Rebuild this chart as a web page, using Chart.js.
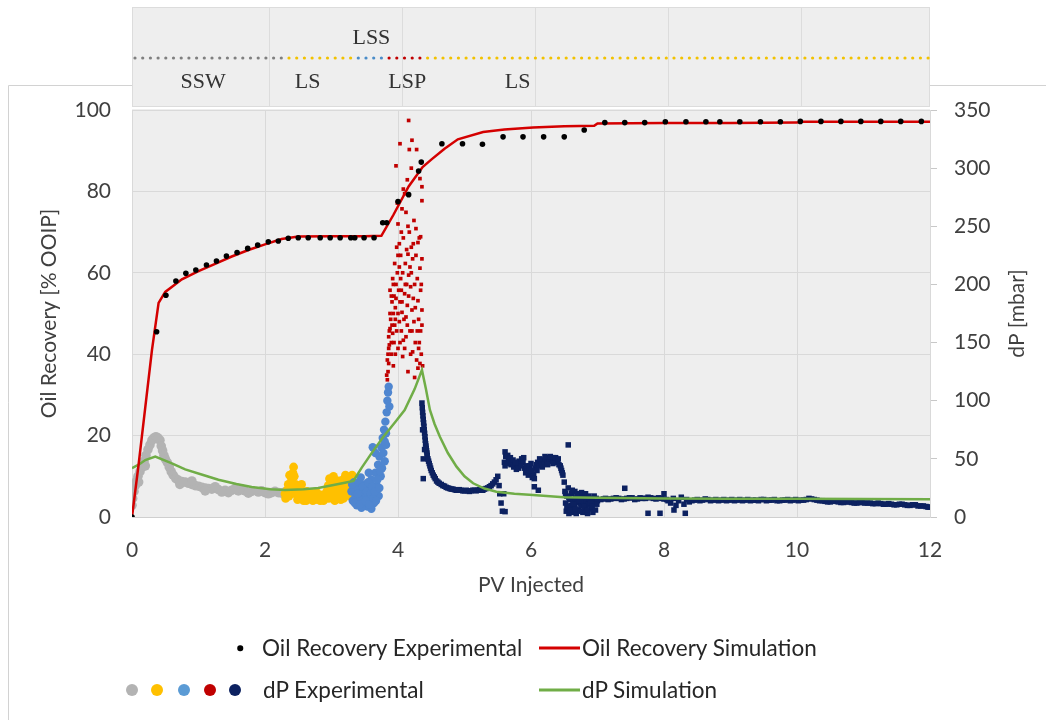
<!DOCTYPE html>
<html>
<head>
<meta charset="utf-8">
<script src="https://cdn.jsdelivr.net/npm/chart.js@4.4.1/dist/chart.umd.min.js"></script>
<style>
  body { margin: 0; background: #fff; }
  #wrap { position: relative; width: 1046px; height: 720px; font-family: Lato, sans-serif; color: #262626; }
  .lg { position: absolute; font-size: 22.5px; line-height: 26px; white-space: nowrap; transform: translateY(-50%); }
  .dot { position: absolute; border-radius: 50%; transform: translate(-50%, -50%); }
  .bar { position: absolute; height: 3px; width: 41px; transform: translateY(-50%); }
</style>
</head>
<body>
<div id="wrap">
  <canvas id="myChart" width="1046" height="720"></canvas>
  <div id="legend"></div>
</div>
<script>
// oil recovery [% OOIP] vs PV injected
const oilExp = [
  [0, 0], [0.37, 45.5], [0.51, 54.5], [0.66, 58], [0.81, 59.9], [0.96, 60.7], [1.12, 61.9],
  [1.27, 62.9], [1.42, 64.1], [1.58, 65.0], [1.74, 66.0], [1.89, 66.8], [2.05, 67.6], [2.2, 67.8],
  [2.35, 68.5], [2.5, 68.6], [2.65, 68.6], [2.83, 68.6], [2.98, 68.6], [3.13, 68.6], [3.29, 68.6],
  [3.35, 68.6], [3.49, 68.6], [3.64, 68.6], [3.77, 72.3], [3.83, 72.3], [4.0, 77.5], [4.16, 79.2],
  [4.31, 85.0], [4.35, 87.2], [4.66, 91.7], [4.97, 91.7], [5.27, 91.6], [5.58, 93.4], [5.88, 93.4],
  [6.19, 93.4], [6.5, 93.4], [6.8, 95.1], [7.11, 96.9], [7.41, 96.9], [7.71, 96.9], [8.02, 97.1],
  [8.33, 97.1], [8.63, 97.1], [8.84, 97.1], [9.14, 97.1], [9.45, 97.1], [9.75, 97.1], [10.05, 97.2],
  [10.36, 97.2], [10.66, 97.2], [10.96, 97.2], [11.26, 97.2], [11.56, 97.2], [11.87, 97.2]
];
const oilSim = [
  [0, 0], [0.1, 13], [0.2, 27], [0.3, 41], [0.4, 52.6], [0.5, 55.3], [0.75, 58.4], [1.0, 60.4],
  [1.25, 62.2], [1.5, 64], [1.75, 65.6], [2.0, 67], [2.25, 68.3], [2.5, 68.9], [3.0, 69], [3.5, 69],
  [3.75, 69.1], [3.93, 74.2], [4.16, 81.2], [4.37, 86], [4.5, 87.8], [4.7, 90.5], [4.9, 92.8],
  [5.28, 94.6], [5.6, 95.2], [6.03, 95.7], [6.5, 96], [6.95, 96.1], [7.0, 96.7], [8.0, 96.8],
  [9.0, 96.8], [10.0, 96.9], [10.05, 97.1], [12, 97.1]
];

// pressure drop [mbar]
const dpSim = [
  [0, 42], [0.1, 45], [0.2, 49], [0.35, 52], [0.6, 46.2], [0.8, 41], [1.07, 36.1], [1.3, 32],
  [1.57, 28.4], [1.8, 25.8], [2.08, 23.8], [2.3, 23.2], [2.58, 23.8], [2.8, 25], [3.03, 27.5],
  [3.2, 29.5], [3.33, 31], [3.45, 42], [3.58, 53], [3.78, 69], [3.95, 81], [4.1, 92], [4.25, 110],
  [4.36, 126.4], [4.42, 110], [4.48, 92], [4.55, 80], [4.63, 69], [4.75, 55], [4.88, 43.3], [5.0, 35],
  [5.13, 29], [5.3, 24.5], [5.48, 21.8], [5.75, 20], [6.03, 18.9], [6.49, 17], [7, 16.6], [8, 16],
  [9, 15.8], [10, 15.6], [11, 15.4], [12, 15.2]
];
const dpSSW = [
  [0.0, 10], [0.01, 16], [0.03, 22], [0.05, 27], [0.07, 31], [0.09, 35], [0.12, 39], [0.15, 43],
  [0.18, 48], [0.21, 53], [0.24, 58], [0.27, 62], [0.3, 66], [0.33, 68], [0.36, 69], [0.39, 68],
  [0.42, 66], [0.44, 61], [0.46, 57], [0.48, 53], [0.5, 50], [0.53, 47], [0.56, 43], [0.59, 39],
  [0.62, 36], [0.66, 33], [0.7, 31.5], [0.75, 30.5], [0.8, 30], [0.85, 29], [0.9, 28], [0.95, 27],
  [1.0, 26.5], [1.05, 25.5], [1.1, 25], [1.15, 24.5], [1.2, 24], [1.3, 23.5], [1.4, 23], [1.5, 23],
  [1.6, 22.5], [1.7, 22.5], [1.8, 22], [1.9, 21.5], [2.0, 21], [2.1, 21], [2.2, 21], [2.3, 21.5],
  [0.72, 28], [0.9, 31], [1.1, 22.5], [1.25, 26], [1.45, 21], [1.65, 24], [0.2, 44], [0.1, 30],
  [1.35, 21.5], [1.55, 24.5], [1.75, 20.5], [1.95, 22.5], [2.05, 20], [2.15, 22], [2.25, 20.5]
];
const dpLS1 = [
  [2.3, 20], [2.33, 23], [2.36, 18], [2.38, 26], [2.4, 32], [2.42, 38], [2.43, 43], [2.44, 35],
  [2.46, 28], [2.48, 22], [2.5, 18], [2.53, 24], [2.56, 20], [2.6, 17], [2.63, 22], [2.66, 19],
  [2.7, 16], [2.73, 20], [2.76, 15], [2.8, 18], [2.83, 14], [2.86, 19], [2.9, 17], [2.93, 22],
  [2.95, 27], [2.97, 33], [3.0, 25], [3.02, 20], [3.05, 30], [3.08, 24], [3.1, 17], [3.12, 28],
  [3.15, 22], [3.17, 32], [3.2, 26], [3.22, 19], [3.25, 34], [3.27, 28], [3.3, 23], [3.32, 30],
  [3.14, 15], [3.05, 14], [2.55, 28], [2.58, 14],
  [2.31, 16], [2.35, 28], [2.37, 36], [2.41, 25], [2.45, 20], [2.49, 15], [2.52, 19], [2.62, 14],
  [2.68, 21], [2.72, 14], [2.78, 21], [2.85, 16], [2.88, 14], [2.92, 19], [2.96, 16], [2.99, 30],
  [3.03, 35], [3.07, 18], [3.11, 31], [3.13, 22], [3.18, 16], [3.21, 36], [3.24, 24], [3.28, 18],
  [3.31, 36]
];
const dpLSS = [
  [3.3, 22], [3.32, 14], [3.34, 30], [3.36, 18], [3.38, 10], [3.4, 25], [3.42, 15], [3.44, 34],
  [3.46, 20], [3.48, 12], [3.5, 28], [3.52, 18], [3.54, 9], [3.56, 24], [3.58, 15], [3.6, 32],
  [3.62, 20], [3.64, 12], [3.66, 38], [3.68, 27], [3.7, 45], [3.71, 18], [3.72, 52], [3.74, 35],
  [3.75, 60], [3.76, 42], [3.77, 68], [3.78, 55], [3.79, 75], [3.8, 48], [3.81, 82], [3.82, 62],
  [3.83, 90], [3.84, 100], [3.85, 107], [3.86, 112], [3.87, 95], [3.62, 60], [3.66, 55], [3.56, 38],
  [3.45, 8], [3.6, 7],
  [3.31, 28], [3.35, 12], [3.39, 20], [3.41, 30], [3.43, 11], [3.47, 26], [3.51, 14], [3.53, 22],
  [3.55, 30], [3.57, 11], [3.59, 20], [3.61, 26], [3.63, 16], [3.65, 22], [3.67, 14], [3.69, 32],
  [3.72, 25], [3.73, 40], [3.8, 65], [3.82, 72]
];
const dpLSP = [
  [3.84, 118], [3.85, 125], [3.86, 132], [3.85, 140], [3.87, 148], [3.86, 155], [3.88, 162], [3.9, 150],
  [3.92, 158], [3.89, 170], [3.93, 175], [3.95, 165], [3.91, 185], [3.94, 190], [3.96, 180], [3.88, 195],
  [3.92, 205], [3.97, 200], [3.99, 210], [3.95, 218], [4.0, 225], [3.98, 232], [4.02, 215], [4.04, 205],
  [4.05, 195], [4.03, 185], [4.06, 176], [4.02, 168], [4.05, 160], [4.08, 152], [4.1, 145], [4.07, 138],
  [4.12, 172], [4.14, 182], [4.1, 192], [4.13, 200], [4.16, 208], [4.11, 218], [4.15, 226], [4.18, 215],
  [4.2, 232], [4.22, 222], [4.19, 198], [4.23, 188], [4.21, 178], [4.24, 168], [4.18, 160], [4.26, 150],
  [4.22, 142], [4.28, 135], [4.3, 128], [4.33, 132], [4.35, 140], [4.32, 150], [4.34, 160], [4.31, 170],
  [4.36, 178], [4.3, 186], [4.34, 195], [4.29, 205], [4.33, 214], [4.36, 222], [4.3, 236], [4.34, 241],
  [4.27, 248], [4.24, 255], [4.12, 262], [4.0, 252], [4.06, 265], [4.36, 272], [4.33, 291], [4.36, 284],
  [3.97, 302], [4.03, 321], [4.17, 316], [4.28, 316], [4.21, 324], [4.16, 341], [4.14, 290], [4.1, 278],
  [3.93, 130], [3.96, 140], [4.0, 145], [4.15, 125], [4.25, 120],
  [3.83, 122], [3.84, 135], [3.86, 145], [3.87, 160], [3.88, 175], [3.9, 140], [3.9, 190], [3.91, 165],
  [3.93, 200], [3.94, 150], [3.96, 170], [3.97, 188], [3.98, 160], [4.0, 175], [4.01, 195], [4.02, 235],
  [4.03, 150], [4.04, 225], [4.06, 185], [4.07, 210], [4.08, 240], [4.09, 170], [4.11, 200], [4.12, 155],
  [4.13, 230], [4.14, 165], [4.16, 190], [4.17, 245], [4.19, 140], [4.2, 210], [4.21, 160], [4.23, 235],
  [4.25, 200], [4.26, 180], [4.27, 225], [4.29, 160], [4.31, 145], [4.32, 240], [4.35, 200], [4.36, 165],
  [4.37, 130], [4.05, 245], [4.15, 250], [3.99, 270], [4.08, 282], [4.2, 300]
];
const dpLS2 = [
  [4.36, 98], [4.37, 90], [4.38, 84], [4.39, 78], [4.4, 72], [4.41, 66], [4.42, 61], [4.43, 57],
  [4.44, 53], [4.46, 48], [4.48, 44], [4.5, 40], [4.53, 36], [4.56, 33], [4.6, 30], [4.65, 28],
  [4.7, 26.5], [4.75, 25], [4.8, 24], [4.85, 23.5], [4.9, 23], [4.95, 23], [5.0, 22.5], [5.05, 22.5],
  [5.1, 22.5], [5.15, 23], [5.2, 23], [5.25, 23.5], [5.3, 24], [5.35, 25], [5.4, 27], [5.45, 30],
  [5.5, 35], [5.52, 27], [5.53, 20], [5.55, 12], [5.57, 5], [4.38, 50], [4.38, 33], [4.37, 75], [4.4, 58],
  [4.365, 94], [4.375, 87], [4.385, 81], [4.395, 75], [4.405, 69], [4.415, 63], [4.425, 59], [4.435, 55],
  [4.45, 50], [4.47, 46], [4.49, 42], [4.515, 38], [4.545, 34.5], [4.58, 31], [4.62, 29], [4.675, 27],
  [4.725, 25.5], [4.775, 24.5], [4.825, 24], [4.875, 23], [4.925, 23.5], [4.975, 22.5], [5.025, 23],
  [5.075, 22], [5.125, 23], [5.175, 22.5], [5.225, 23.5], [5.275, 23], [5.325, 24.5], [5.375, 26],
  [5.425, 28.5], [5.475, 32],
  [5.6, 47], [5.62, 52], [5.64, 46], [5.66, 50], [5.68, 48], [5.7, 45], [5.72, 47], [5.74, 43],
  [5.76, 44], [5.78, 41], [5.8, 45], [5.82, 48], [5.84, 46], [5.86, 50], [5.88, 47], [5.9, 42],
  [5.92, 38], [5.94, 40], [5.96, 36], [5.98, 44], [6.0, 46], [6.02, 34], [6.04, 37], [6.06, 42],
  [6.08, 45], [6.1, 47], [6.12, 44], [6.14, 48], [6.16, 46], [6.18, 49], [6.2, 47], [6.22, 50],
  [6.24, 48], [6.26, 51], [6.28, 49], [6.3, 50], [6.32, 48], [6.34, 51], [6.36, 49], [6.38, 47],
  [6.4, 48], [6.42, 45], [6.44, 44], [6.46, 40], [6.48, 36], [5.61, 56], [6.56, 62], [6.11, 23],
  [6.05, 26], [5.61, 4.6], [5.59, 20],
  [5.61, 44], [5.65, 53], [5.69, 51], [5.73, 49], [5.77, 47], [5.81, 42], [5.85, 44], [5.89, 51],
  [5.93, 44], [5.97, 40], [6.01, 40], [6.05, 33], [6.09, 40], [6.13, 50], [6.17, 43], [6.21, 52],
  [6.25, 45], [6.29, 52], [6.33, 46], [6.37, 51], [6.41, 50], [6.45, 42], [6.47, 38],
  [6.5, 30], [6.51, 22], [6.52, 12], [6.53, 5], [6.54, 18], [6.55, 8], [6.56, 25], [6.57, 3],
  [6.58, 15], [6.6, 10], [6.61, 20], [6.62, 4], [6.63, 14], [6.65, 8], [6.66, 22], [6.67, 16],
  [6.68, 3], [6.7, 12], [6.71, 19], [6.72, 6], [6.74, 15], [6.75, 10], [6.76, 21], [6.78, 4],
  [6.79, 13], [6.8, 17], [6.82, 8], [6.83, 14], [6.85, 3], [6.86, 11], [6.88, 16], [6.9, 7],
  [6.91, 13], [6.93, 4], [6.94, 15], [6.96, 12], [6.98, 16], [7.0, 14],
  [6.52, 20], [6.54, 9], [6.57, 17], [6.59, 6], [6.62, 23], [6.64, 11], [6.67, 7], [6.69, 20],
  [6.72, 14], [6.74, 5], [6.77, 17], [6.8, 9], [6.82, 20], [6.84, 6], [6.87, 18], [6.89, 12],
  [6.92, 9], [6.95, 18], [6.97, 6], [6.99, 11],
  [7.05, 15], [7.12, 16], [7.2, 15.5], [7.28, 16.5], [7.36, 15], [7.44, 16], [7.52, 16.5], [7.6, 15.5],
  [7.68, 16], [7.76, 17], [7.84, 16], [7.92, 16.5], [8.0, 15.5], [8.06, 14], [8.1, 12], [8.14, 16],
  [8.18, 10], [8.22, 14], [8.26, 17], [8.3, 11], [8.34, 15], [8.38, 13], [8.42, 14], [8.5, 15],
  [8.58, 14.5], [8.66, 15], [8.74, 14.5], [8.82, 14], [8.9, 15], [8.98, 14.5], [9.06, 14], [9.14, 15],
  [9.22, 14.5], [9.3, 14], [9.38, 14.5], [9.46, 15], [9.54, 14], [9.62, 14.5], [9.7, 14], [9.78, 14.5],
  [9.86, 15], [9.94, 14.5], [10.02, 14], [10.1, 14.5], [10.18, 16], [10.26, 15], [10.34, 14], [10.42, 13.5],
  [10.5, 13], [10.58, 13.5], [10.66, 12.5], [10.74, 13], [10.82, 12.5], [10.9, 12], [10.98, 12.5], [11.06, 12],
  [11.14, 11.5], [11.22, 12], [11.3, 11], [11.38, 11.5], [11.46, 10.5], [11.54, 11], [11.62, 10.5], [11.7, 10],
  [11.78, 10.5], [11.86, 9.5], [11.94, 9], [12.0, 8.5], [7.41, 24.7], [7.76, 3.2], [7.94, 3.2], [8.32, 3.2],
  [8.0, 20], [8.15, 6],
  [7.09, 15.5], [7.16, 15], [7.24, 16], [7.32, 16], [7.4, 15.5], [7.48, 16.5], [7.56, 15], [7.64, 16.5],
  [7.72, 16], [7.8, 16.5], [7.88, 15.5], [7.96, 16], [8.04, 15], [8.46, 14.5], [8.54, 14], [8.62, 15.5],
  [8.7, 14], [8.78, 15], [8.86, 14.5], [8.94, 14], [9.02, 15], [9.1, 14.5], [9.18, 14], [9.26, 15],
  [9.34, 14.5], [9.42, 14], [9.5, 15], [9.58, 14.5], [9.66, 15], [9.74, 14], [9.82, 14.5], [9.9, 14],
  [9.98, 15], [10.06, 14.5], [10.14, 15], [10.22, 15.5], [10.3, 14.5], [10.38, 14], [10.46, 13], [10.54, 13.5],
  [10.62, 13], [10.7, 12.5], [10.78, 13], [10.86, 12], [10.94, 12.5], [11.02, 12], [11.1, 12], [11.18, 11.5],
  [11.26, 11.5], [11.34, 11], [11.42, 11], [11.5, 10.5], [11.58, 11], [11.66, 10], [11.74, 10.5], [11.82, 9.5],
  [11.9, 9.5], [11.97, 8.5]
];

// injection sequence shown above the plot
const phaseNames = ['SSW', 'LS', 'LSS', 'LSP', 'LS'];
const phaseStart = [0, 2.3, 3.36, 3.84, 4.33];
const phaseLabelX = [1.07, 2.64, 3.6, 4.14, 5.8];
const phaseLabelAbove = [false, false, true, false, false];

const xTicks = [0, 2, 4, 6, 8, 10, 12];

const GREY = '#b3b3b3', YELLOW = '#ffc000', BLUE = '#4f86d0', RED = '#c00000', NAVY = '#0c2160';
const phaseDotColors = ['#7f7f7f', '#f2c200', '#4a8cc8', '#c00000', '#f2c200'];
const TEXT = '#404040';
const FONT = 'Lato, sans-serif';
const AXIS_SIZE = 21;

const pts = arr => arr.map(([x, y]) => ({ x, y }));

const backdrop = {
  id: 'backdrop',
  beforeDraw(chart) {
    const { ctx, chartArea: a, scales: { x } } = chart;
    ctx.save();
    ctx.fillStyle = '#fff';
    ctx.fillRect(0, 0, chart.width, chart.height);

    // outer frame of the figure
    ctx.strokeStyle = '#d2d2d2';
    ctx.lineWidth = 1;
    ctx.beginPath();
    ctx.moveTo(8.5, chart.height);
    ctx.lineTo(8.5, 85.5);
    ctx.lineTo(a.left, 85.5);
    ctx.moveTo(a.right, 85.5);
    ctx.lineTo(chart.width, 85.5);
    ctx.stroke();

    // plot background
    ctx.fillStyle = '#eeeeee';
    ctx.fillRect(a.left, a.top - 1, a.right - a.left, a.bottom - a.top + 1);

    // phase band
    const bTop = 7, bBot = a.top - 3;
    ctx.fillRect(a.left, bTop, a.right - a.left, bBot - bTop);
    ctx.strokeStyle = '#dcdcdc';
    ctx.strokeRect(a.left + 0.5, bTop + 0.5, a.right - a.left - 1, bBot - bTop - 1);
    ctx.beginPath();
    xTicks.slice(1, -1).forEach(v => {
      const px = Math.round(x.getPixelForValue(v)) + 4.5;
      ctx.moveTo(px, bTop);
      ctx.lineTo(px, bBot);
    });
    ctx.stroke();

    // dotted sequence line
    const lineY = 58;
    for (let px = a.left + 3; px < a.right - 1; px += 7.7) {
      const v = x.getValueForPixel(px);
      let k = 0;
      phaseStart.forEach((s, i) => { if (v >= s) k = i; });
      ctx.fillStyle = phaseDotColors[k];
      ctx.beginPath();
      ctx.arc(px, lineY, 1.6, 0, Math.PI * 2);
      ctx.fill();
    }

    ctx.fillStyle = '#333';
    ctx.font = '22px "Liberation Serif", serif';
    ctx.textAlign = 'center';
    ctx.textBaseline = 'middle';
    phaseNames.forEach((name, i) => {
      ctx.fillText(name, x.getPixelForValue(phaseLabelX[i]), phaseLabelAbove[i] ? 38 : 82);
    });
    ctx.restore();
  },
  afterDraw(chart) {
    const { ctx, chartArea: a } = chart;
    ctx.save();
    ctx.translate(1017, (a.top + a.bottom) / 2);
    ctx.rotate(-Math.PI / 2);
    ctx.fillStyle = TEXT;
    ctx.font = AXIS_SIZE + 'px ' + FONT;
    ctx.textAlign = 'center';
    ctx.textBaseline = 'middle';
    ctx.fillText('dP [mbar]', 0, 0);
    ctx.restore();
  }
};

const dpPoints = (data, color, style, r) => ({
  type: 'scatter', data: pts(data), yAxisID: 'y1', backgroundColor: color, borderColor: color,
  borderWidth: 0, pointStyle: style, pointRadius: r
});

const ctx = document.getElementById('myChart').getContext('2d');
const myChart = new Chart(ctx, {
  type: 'scatter',
  data: {
    datasets: [
      { label: 'Oil Recovery Experimental', data: pts(oilExp), yAxisID: 'y',
        backgroundColor: '#000', borderWidth: 0, pointRadius: 2.8 },
      { label: 'Oil Recovery Simulation', data: pts(oilSim), yAxisID: 'y', showLine: true,
        borderColor: '#d40000', borderWidth: 2.5, pointRadius: 0 },
      { label: 'dP Simulation', data: pts(dpSim), yAxisID: 'y1', showLine: true,
        borderColor: '#70ad47', borderWidth: 2.5, pointRadius: 0 },
      dpPoints(dpLSP, RED, 'rect', 2.6),
      dpPoints(dpLS2, NAVY, 'rect', 3.9),
      dpPoints(dpLSS, BLUE, 'circle', 4.2),
      dpPoints(dpLS1, YELLOW, 'circle', 4.4),
      dpPoints(dpSSW, GREY, 'circle', 4.8)
    ]
  },
  options: {
    responsive: false,
    animation: false,
    layout: { padding: { top: 110, bottom: 120, left: 0, right: 0 } },
    plugins: { legend: { display: false }, tooltip: { enabled: false } },
    scales: {
      x: {
        type: 'linear', min: 0, max: 12,
        afterFit: s => { s.height = 83; },
        ticks: { stepSize: 2, color: TEXT, font: { family: FONT, size: AXIS_SIZE }, padding: 21, maxRotation: 0 },
        grid: { color: '#d9d9d9', drawTicks: false },
        border: { color: '#cfcfcf' },
        title: { display: true, text: 'PV Injected', color: TEXT, font: { family: FONT, size: AXIS_SIZE },
          padding: { top: 0, bottom: 2 } }
      },
      y: {
        position: 'left', min: 0, max: 100,
        afterFit: s => { s.width = 132; },
        ticks: { stepSize: 20, color: TEXT, font: { family: FONT, size: AXIS_SIZE }, padding: 21 },
        grid: { color: '#d9d9d9', drawTicks: false },
        border: { color: '#d9d9d9' },
        title: { display: true, text: 'Oil Recovery [% OOIP]', color: TEXT,
          font: { family: FONT, size: AXIS_SIZE }, padding: { top: 37, bottom: 0 } }
      },
      y1: {
        position: 'right', min: 0, max: 350,
        afterFit: s => { s.width = 116; },
        ticks: { stepSize: 50, color: TEXT, font: { family: FONT, size: AXIS_SIZE }, padding: 17 },
        grid: { drawOnChartArea: false, color: '#c8c8c8', tickLength: 7 },
        border: { color: '#d9d9d9' }
      }
    }
  },
  plugins: [backdrop]
});

// legend below the plot
const legendRows = [
  { y: 648, items: [
    { kind: 'dots', xs: [240], colors: ['#000'], size: 5.5 },
    { kind: 'text', x: 262, text: 'Oil Recovery Experimental' },
    { kind: 'bar', x: 539, color: '#d40000' },
    { kind: 'text', x: 582, text: 'Oil Recovery Simulation' }
  ] },
  { y: 690, items: [
    { kind: 'dots', xs: [132, 157, 184, 210, 235], colors: [GREY, YELLOW, '#5b9bd5', RED, NAVY], size: 12 },
    { kind: 'text', x: 263, text: 'dP Experimental' },
    { kind: 'bar', x: 539, color: '#70ad47' },
    { kind: 'text', x: 582, text: 'dP Simulation' }
  ] }
];
const legend = document.getElementById('legend');
legendRows.forEach(row => {
  row.items.forEach(it => {
    if (it.kind === 'dots') {
      it.xs.forEach((x, i) => {
        const d = document.createElement('span');
        d.className = 'dot';
        Object.assign(d.style, { left: x + 'px', top: row.y + 'px', width: it.size + 'px',
          height: it.size + 'px', background: it.colors[i] });
        legend.appendChild(d);
      });
    } else if (it.kind === 'bar') {
      const b = document.createElement('span');
      b.className = 'bar';
      Object.assign(b.style, { left: it.x + 'px', top: row.y + 'px', background: it.color });
      legend.appendChild(b);
    } else {
      const t = document.createElement('span');
      t.className = 'lg';
      t.textContent = it.text;
      Object.assign(t.style, { left: it.x + 'px', top: row.y + 'px' });
      legend.appendChild(t);
    }
  });
});
</script>
</body>
</html>
